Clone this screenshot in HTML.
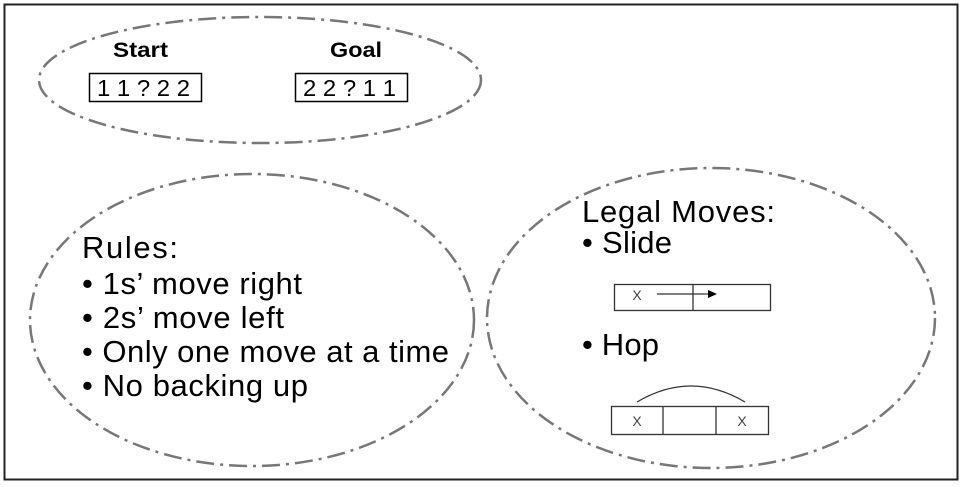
<!DOCTYPE html>
<html><head><style>
body{margin:0;width:964px;height:487px;background:#fff;overflow:hidden}
svg{position:absolute;left:0;top:0}
</style></head><body>
<svg width="964" height="487" viewBox="0 0 964 487" font-family="Liberation Sans, sans-serif">
<rect x="4.5" y="4.5" width="953" height="475" fill="none" stroke="#222" stroke-width="2"/>
<g fill="none" stroke="#777" stroke-width="2.5" stroke-dasharray="18,6,3,6">
<ellipse cx="260" cy="80" rx="221" ry="63"/>
<ellipse cx="252" cy="320" rx="222" ry="146"/>
<ellipse cx="711" cy="318" rx="224" ry="150"/>
</g>
<text x="113" y="57" font-size="21" font-weight="bold" textLength="55" lengthAdjust="spacingAndGlyphs">Start</text>
<text x="330" y="57" font-size="21" font-weight="bold" textLength="52" lengthAdjust="spacingAndGlyphs">Goal</text>
<rect x="89.5" y="73.5" width="112" height="28" fill="none" stroke="#000" stroke-width="1.5"/>
<rect x="295.5" y="73.5" width="112" height="28" fill="none" stroke="#000" stroke-width="1.5"/>
<text x="97" y="96" font-size="23" textLength="93" lengthAdjust="spacingAndGlyphs">1 1 ? 2 2</text>
<text x="303" y="96" font-size="23" textLength="93" lengthAdjust="spacingAndGlyphs">2 2 ? 1 1</text>
<g font-size="31" fill="#000" lengthAdjust="spacingAndGlyphs">
<text x="82" y="258" textLength="96">Rules:</text>
<text x="82" y="294" textLength="220">• 1s’ move right</text>
<text x="82" y="328" textLength="202">• 2s’ move left</text>
<text x="82" y="362" textLength="367">• Only one move at a time</text>
<text x="82" y="396" textLength="226">• No backing up</text>
<text x="582" y="222" textLength="193">Legal Moves:</text>
<text x="582" y="253" textLength="90">• Slide</text>
<text x="582" y="355" textLength="77">• Hop</text>
</g>
<g stroke="#333" stroke-width="1.3" fill="none">
<rect x="614.5" y="284.5" width="156" height="26"/>
<line x1="693" y1="284" x2="693" y2="311"/>
<line x1="657" y1="294" x2="708" y2="294"/>
<rect x="611.5" y="406.5" width="157" height="28"/>
<line x1="663" y1="406" x2="663" y2="435"/>
<line x1="716" y1="406" x2="716" y2="435"/>
<path d="M637 402 Q691 370 745 402"/>
</g>
<polygon points="708,290 717,294 708,298" fill="#000"/>
<g font-size="14" fill="#444" text-anchor="middle">
<text x="637" y="300">X</text>
<text x="637" y="426">X</text>
<text x="742" y="426">X</text>
</g>
</svg>
</body></html>
